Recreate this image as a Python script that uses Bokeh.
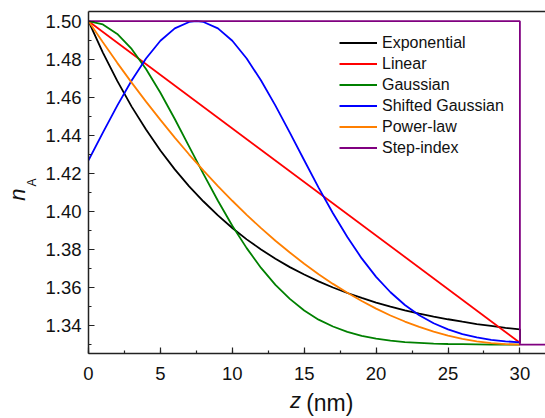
from bokeh.plotting import figure
from bokeh.models import (LinearAxis, SingleIntervalTicker, NumeralTickFormatter,
                          Legend, LegendItem, Range1d)
from bokeh.embed import file_html
from bokeh.resources import INLINE

# ---- data ----
z = list(range(0, 31))

exponential = [1.5000, 1.4835, 1.4686, 1.4551, 1.4431, 1.4320, 1.4221, 1.4132, 1.4052,
               1.3979, 1.3913, 1.3853, 1.3800, 1.3751, 1.3707, 1.3668, 1.3632, 1.3600,
               1.3571, 1.3545, 1.3521, 1.3500, 1.3480, 1.3463, 1.3447, 1.3433, 1.3420,
               1.3408, 1.3398, 1.3388, 1.3380]
exp_z = z + [30]
exp_n = exponential + [1.331]

linear_z = [0, 30]
linear_n = [1.50, 1.331]

gaussian = [1.5000, 1.4983, 1.4933, 1.4854, 1.4749, 1.4624, 1.4486, 1.4341, 1.4196,
            1.4056, 1.3925, 1.3807, 1.3703, 1.3614, 1.3540, 1.3479, 1.3431, 1.3395,
            1.3367, 1.3346, 1.3331, 1.3321, 1.3313, 1.3309, 1.3305, 1.3303, 1.3302,
            1.3301, 1.3300, 1.3300, 1.3300]

shifted_z = [0, 1, 2, 3, 4, 5, 6, 7, 7.5, 8, 9, 10, 11, 12, 13, 14, 15, 16, 17, 18, 19,
             20, 21, 22, 23, 24, 25, 26, 27, 28, 29, 30]
shifted = [1.4269, 1.4414, 1.4556, 1.4688, 1.4804, 1.4897, 1.4962, 1.4996, 1.5000,
           1.4996, 1.4962, 1.4897, 1.4804, 1.4688, 1.4556, 1.4414, 1.4269, 1.4125,
           1.3990, 1.3865, 1.3753, 1.3656, 1.3575, 1.3508, 1.3454, 1.3412, 1.3380,
           1.3355, 1.3338, 1.3325, 1.3317, 1.3311]

powerlaw = [1.5000, 1.4889, 1.4781, 1.4677, 1.4577, 1.4481, 1.4388, 1.4299, 1.4214,
            1.4133, 1.4056, 1.3982, 1.3912, 1.3846, 1.3784, 1.3725, 1.3670, 1.3619,
            1.3572, 1.3529, 1.3489, 1.3453, 1.3421, 1.3393, 1.3368, 1.3347, 1.3330,
            1.3317, 1.3308, 1.3302, 1.3300]

step_z = [0, 30, 30, 32]
step_n = [1.50, 1.50, 1.33, 1.33]

series_names = ["Exponential", "Linear", "Gaussian", "Shifted Gaussian", "Power-law", "Step-index"]
series_colors = ["#000000", "#FF0000", "#008000", "#0000FF", "#FF7F00", "#800080"]

NBSP = "\u00a0"
FONT = "Liberation Sans"
AX = "#222222"
TXT = "#111111"

p = figure(width=545, height=418, output_backend="svg", toolbar_location=None,
           x_range=Range1d(0, 31.78), y_range=Range1d(1.3253, 1.5051),
           min_border_left=88, min_border_right=0, min_border_top=11, min_border_bottom=64)
p.outline_line_color = None
p.grid.visible = False
p.background_fill_color = "white"
p.border_fill_color = "white"

lw = 1.8
r_exp = p.line(exp_z, exp_n, color=series_colors[0], line_width=lw)
r_lin = p.line(linear_z, linear_n, color=series_colors[1], line_width=lw)
r_gau = p.line(z, gaussian, color=series_colors[2], line_width=lw)
r_sg = p.line(shifted_z, shifted, color=series_colors[3], line_width=lw)
r_pl = p.line(z, powerlaw, color=series_colors[4], line_width=lw)
r_st = p.line(step_z, step_n, color=series_colors[5], line_width=lw)

# main axes
xa = p.xaxis[0]
xa.ticker = SingleIntervalTicker(interval=5, num_minor_ticks=2)
ya = p.yaxis[0]
ya.ticker = SingleIntervalTicker(interval=0.02, num_minor_ticks=2)
ya.formatter = NumeralTickFormatter(format="0.00")
for ax in (xa, ya):
    ax.axis_line_color = AX
    ax.axis_line_width = 1.5
    ax.major_tick_line_color = AX
    ax.minor_tick_line_color = AX
    ax.major_tick_line_width = 1.2
    ax.minor_tick_line_width = 1.2
    ax.major_tick_in = 6
    ax.major_tick_out = 0
    ax.minor_tick_in = 3
    ax.minor_tick_out = 0
    ax.major_label_text_font = FONT
    ax.major_label_text_font_size = "18.5px"
    ax.major_label_text_color = TXT
    ax.axis_label_text_font = FONT
    ax.axis_label_text_color = TXT
xa.major_label_standoff = 13
ya.major_label_standoff = 7

# y title: subscript "A" on the main axis, italic "n" on an outer bare axis
ya.axis_label = "A"
ya.axis_label_text_font_size = "12px"
ya.axis_label_text_font_style = "normal"
ya.axis_label_standoff = 3

# x title: italic "z" on the main axis, "(nm)" on a bare second axis pulled up onto the same row
xa.axis_label = "z" + NBSP * 7
xa.axis_label_text_font_size = "22px"
xa.axis_label_text_font_style = "italic"
xa.axis_label_standoff = 5


def bare_axis(**kw):
    return LinearAxis(ticker=SingleIntervalTicker(interval=5), axis_line_color=None,
                      major_tick_line_color=None, minor_tick_line_color=None,
                      major_tick_out=0, minor_tick_out=0, major_tick_in=0, minor_tick_in=0,
                      major_label_text_font_size="0px", major_label_standoff=0,
                      axis_label_text_font=FONT, axis_label_text_color=TXT, **kw)


y_outer = bare_axis(axis_label="n" + NBSP * 4, axis_label_text_font_size="22px",
                    axis_label_text_font_style="italic", axis_label_standoff=-7)
p.add_layout(y_outer, "left")

x_outer = bare_axis(axis_label=NBSP * 4 + "(nm)", axis_label_text_font_size="23px",
                    axis_label_text_font_style="normal", axis_label_standoff=-26)
p.add_layout(x_outer, "below")

top = LinearAxis(ticker=SingleIntervalTicker(interval=5), axis_line_color=AX, axis_line_width=1.5,
                 major_tick_line_color=None, minor_tick_line_color=None,
                 major_tick_out=0, minor_tick_out=0,
                 major_label_text_font_size="0px", major_label_standoff=0)
p.add_layout(top, "above")

legend = Legend(items=[LegendItem(label=n, renderers=[r]) for n, r in
                       zip(series_names, [r_exp, r_lin, r_gau, r_sg, r_pl, r_st])],
                location=(251, 195), glyph_width=38, glyph_height=21, label_height=21,
                spacing=0, padding=5, margin=0, label_standoff=5,
                label_text_font=FONT, label_text_font_size="16px", label_text_color=TXT,
                background_fill_alpha=0, border_line_color=None)
p.add_layout(legend)

open("out.html", "w").write(file_html(p, INLINE))
